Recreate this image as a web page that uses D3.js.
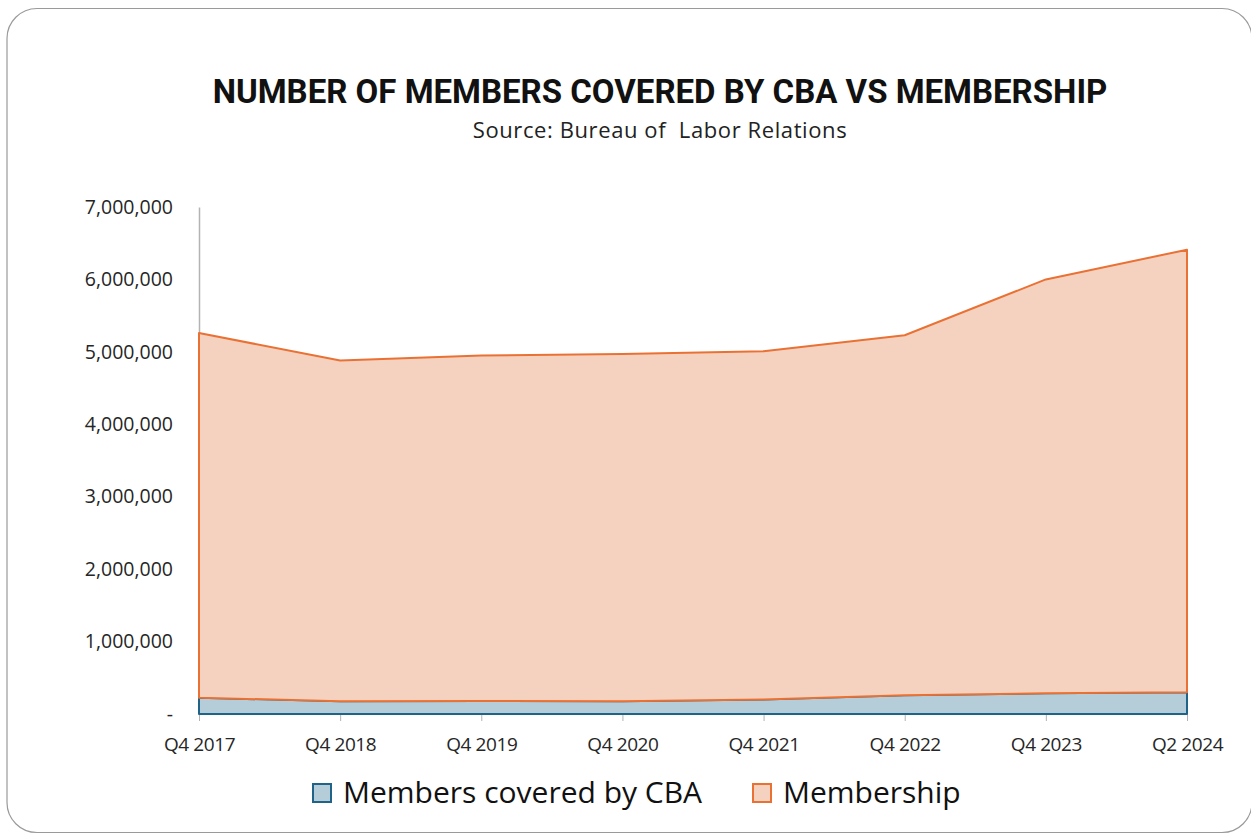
<!DOCTYPE html>
<html>
<head>
<meta charset="utf-8">
<script src="https://cdn.jsdelivr.net/npm/d3@7"></script>
<style>
  body { margin: 0; background: #fff; }
  svg { display: block; font-family: 'Open Sans', 'Noto Sans', sans-serif; }
</style>
</head>
<body>
<svg id="chart" width="1251" height="835"></svg>
<script>
// values
const periods = ['Q4 2017', 'Q4 2018', 'Q4 2019', 'Q4 2020', 'Q4 2021', 'Q4 2022', 'Q4 2023', 'Q2 2024'];
const cbaMembers = [225000, 175000, 180000, 175000, 200000, 260000, 285000, 300000];
const membership = [5035000, 4705000, 4770000, 4795000, 4810000, 4970000, 5715000, 6110000];
const yTicks = [0, 1000000, 2000000, 3000000, 4000000, 5000000, 6000000, 7000000];

const svg = d3.select('#chart');
const W = 1251, H = 835;
const margin = {left: 199, right: 64, top: 207, bottom: 121};

// card
svg.append('rect')
  .attr('x', 7).attr('y', 8.5)
  .attr('width', 1245).attr('height', 824)
  .attr('rx', 30)
  .attr('fill', '#fff')
  .attr('stroke', '#9a9a9a')
  .attr('stroke-width', 1.2);

svg.append('text')
  .attr('x', 660).attr('y', 103)
  .attr('text-anchor', 'middle')
  .attr('font-family', 'Roboto, sans-serif')
  .attr('font-weight', 700)
  .attr('font-size', 33)
  .attr('fill', '#111')
  .text('NUMBER OF MEMBERS COVERED BY CBA VS MEMBERSHIP');

svg.append('text')
  .attr('x', 660).attr('y', 138)
  .attr('text-anchor', 'middle')
  .attr('font-size', 22)
  .attr('letter-spacing', 0.6)
  .attr('fill', '#222')
  .attr('xml:space', 'preserve')
  .text('Source: Bureau of  Labor Relations');

const x = d3.scalePoint()
  .domain(periods)
  .range([margin.left, W - margin.right]);

const y = d3.scaleLinear()
  .domain([0, 7000000])
  .range([H - margin.bottom, margin.top]);

const rows = periods.map((p, i) => ({period: p, cba: cbaMembers[i], mem: membership[i]}));
const stacked = d3.stack().keys(['cba', 'mem'])(rows);

const area = d3.area()
  .x(d => x(d.data.period))
  .y0(d => y(d[0]))
  .y1(d => y(d[1]));

// axes
const yAxis = svg.append('g')
  .attr('transform', `translate(${margin.left},0)`)
  .call(d3.axisLeft(y).tickValues(yTicks).tickSize(0).tickPadding(26)
    .tickFormat(d => d === 0 ? '-' : d3.format(',')(d)));
yAxis.select('.domain').attr('stroke', '#b3b3b3').attr('stroke-width', 1.5);
yAxis.selectAll('text').attr('font-size', 19.5).attr('fill', '#262626')
  .attr('font-family', "'Open Sans', sans-serif");

const xAxis = svg.append('g')
  .attr('transform', `translate(0,${H - margin.bottom})`)
  .call(d3.axisBottom(x).tickSize(7).tickPadding(17).tickSizeOuter(0));
xAxis.select('.domain').attr('stroke', '#b3b3b3').attr('stroke-width', 1.2);
xAxis.selectAll('.tick line').attr('stroke', '#b3b3b3');
xAxis.selectAll('text').attr('font-size', 19).attr('fill', '#262626')
  .attr('letter-spacing', -0.4)
  .attr('font-family', "'Open Sans', sans-serif");

const fills = ['#b5cdd8', '#f5d2bf'];
const strokes = ['#1f6488', '#ea7134'];

svg.append('g')
  .selectAll('path')
  .data(stacked)
  .join('path')
  .attr('d', area)
  .attr('fill', (d, i) => fills[i])
  .attr('stroke', (d, i) => strokes[i])
  .attr('stroke-width', 2)
  .attr('stroke-linejoin', 'round');

// legend
const legendItems = [
  {label: 'Members covered by CBA', x: 313},
  {label: 'Membership', x: 753}
];
const lg = svg.append('g').selectAll('g')
  .data(legendItems)
  .join('g')
  .attr('transform', d => `translate(${d.x},784)`);
lg.append('rect')
  .attr('width', 18).attr('height', 18)
  .attr('fill', (d, i) => fills[i])
  .attr('stroke', (d, i) => strokes[i])
  .attr('stroke-width', 2);
lg.append('text')
  .attr('x', 30).attr('y', 19)
  .attr('font-size', 30)
  .attr('fill', '#111')
  .attr('font-family', "'Open Sans', sans-serif")
  .text(d => d.label);
</script>
</body>
</html>
